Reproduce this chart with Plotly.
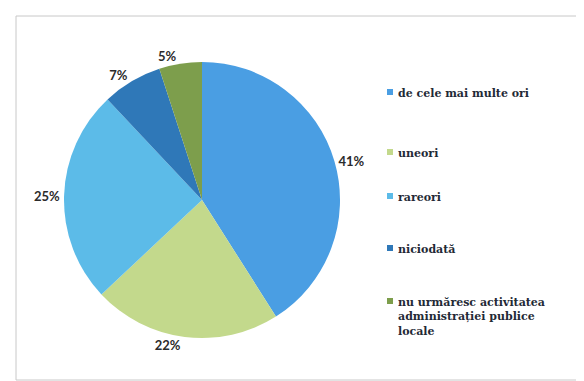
import plotly.graph_objects as go

labels = ["de cele mai multe ori", "uneori", "rareori", "niciodată",
          "nu urmăresc activitatea<br>administrației publice<br>locale"]
values = [41, 22, 25, 7, 5]
pct_text = ["41%", "22%", "25%", "7%", "5%"]
colors = ["#4a9ee3", "#c3d98c", "#5cbbe8", "#2f78b8", "#7d9e4c"]
legend_y = [84, 144, 188, 240, 293]  # pixel rows of legend entries

W, H = 584, 381

fig = go.Figure(go.Pie(
    labels=labels, values=values, text=pct_text, textinfo="text",
    textposition="outside", sort=False, direction="clockwise", rotation=0,
    marker=dict(colors=colors, line=dict(width=0)),
    textfont=dict(family="Lato", size=13, color="#2b2b2b", weight="bold"),
    domain=dict(x=[56 / W, 332 / W], y=[1 - 330 / H, 1 - 54 / H]),
    showlegend=False, hoverinfo="label+percent",
))

shapes = [dict(type="rect", xref="paper", yref="paper",
               x0=8 / W, x1=578 / W, y0=1 - 372 / H, y1=1 - 8 / H,
               line=dict(color="#c8c8c8", width=1), fillcolor="rgba(0,0,0,0)")]
annotations = []
for lab, col, py in zip(labels, colors, legend_y):
    shapes.append(dict(type="rect", xref="paper", yref="paper",
                       x0=379 / W, x1=385 / W, y0=1 - (py + 3) / H, y1=1 - (py - 3) / H,
                       line=dict(width=0), fillcolor=col))
    annotations.append(dict(xref="paper", yref="paper", x=388 / W, y=1 - (py - 7) / H,
                            xanchor="left", yanchor="top", text=lab, showarrow=False,
                            align="left",
                            font=dict(family="DejaVu Serif", size=11,
                                      color="#1f2a36", weight="bold")))

fig.update_layout(width=W, height=H, margin=dict(l=0, r=0, t=0, b=0),
                  paper_bgcolor="white", plot_bgcolor="white",
                  shapes=shapes, annotations=annotations)
fig.write_html("out.html")
